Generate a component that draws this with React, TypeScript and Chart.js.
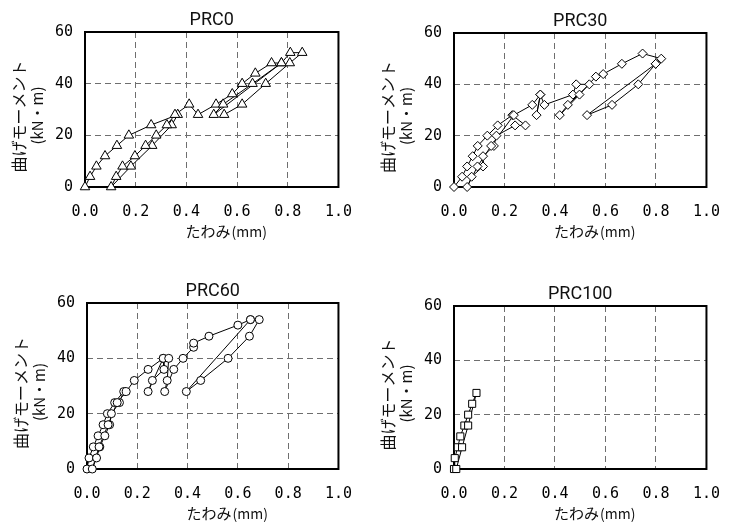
import React, { useEffect, useRef } from 'react';
import { Chart, registerables } from 'chart.js';

Chart.register(...registerables);

// ---- axis ticks ----
const xTickLabels = ['0.0', '0.2', '0.4', '0.6', '0.8', '1.0'];
const yTickLabels = ['0', '20', '40', '60'];

// ---- titles ----
const panelTitles = ['PRC0', 'PRC30', 'PRC60', 'PRC100'];
const xAxisTitle = 'たわみ';
const xAxisUnit = '(mm)';
const yAxisTitle = '曲げモーメント';
const yAxisUnit = '(kN・m)';

// ---- PRC0 (deflection mm, moment kN·m) ----
const prc0Deflection = [
  0, 0.02, 0.045, 0.079, 0.126, 0.173, 0.261, 0.366,
  0.342, 0.265, 0.181, 0.103,
  0.123, 0.148, 0.197, 0.239, 0.281, 0.323, 0.355,
  0.411, 0.446, 0.517, 0.581, 0.62, 0.672, 0.736, 0.775,
  0.661, 0.545, 0.508, 0.775, 0.81, 0.857, 0.808, 0.713, 0.62, 0.549,
];
const prc0Moment = [
  0, 4, 8, 12, 16, 20, 24, 28,
  24, 16, 8, 0,
  4, 8, 12, 16, 20, 24, 28,
  32, 28, 32, 36, 40, 44, 48, 48,
  40, 32, 28, 48, 52, 52, 48, 40, 32, 28,
];

// ---- PRC30 ----
const prc30Deflection = [
  0, 0.032, 0.052, 0.074, 0.094, 0.132, 0.173, 0.231,
  0.283, 0.242, 0.168, 0.158, 0.115, 0.115, 0.07, 0.052,
  0.093, 0.147, 0.237,
  0.31, 0.342, 0.327, 0.342, 0.358, 0.471, 0.484, 0.536, 0.451, 0.419, 0.497,
  0.562, 0.591, 0.665, 0.747, 0.821, 0.799, 0.527, 0.626, 0.73, 0.799,
];
const prc30Moment = [
  0, 4, 8, 12, 16, 20, 24, 28,
  24, 24, 20, 16, 12, 8, 4, 0,
  8, 16, 28,
  32, 36, 28, 36, 32, 36, 40, 40, 32, 28, 36,
  43, 44, 48, 52, 50, 48, 28, 32, 40, 48,
];

// ---- PRC60 ----
const prc60Deflection = [
  0, 0.008, 0.025, 0.044, 0.064, 0.081, 0.11, 0.146,
  0.129, 0.097, 0.09, 0.071, 0.051, 0.038, 0.021,
  0.048, 0.084, 0.12, 0.156,
  0.188, 0.243, 0.303, 0.306, 0.26, 0.243, 0.303, 0.325, 0.319, 0.309, 0.345,
  0.382, 0.424, 0.424, 0.485, 0.6, 0.65, 0.685, 0.646, 0.561, 0.452, 0.395, 0.65,
];
const prc60Moment = [
  0, 4, 8, 12, 16, 20, 24, 28,
  24, 20, 16, 12, 8, 4, 0,
  8, 16, 24, 28,
  32, 36, 40, 36, 32, 28, 40, 40, 32, 28, 36,
  40, 44, 45.5, 48, 52, 54, 54, 48, 40, 32, 28, 54,
];

// ---- PRC100 ----
const prc100Deflection = [0, 0.003, 0.015, 0.025, 0.041, 0.056, 0.072, 0.089, 0.056, 0.032, 0.009];
const prc100Moment = [0, 4, 8, 12, 16, 20, 24, 28, 16, 8, 0];

const JP = '"Noto Sans CJK JP", "Noto Sans", sans-serif';

const framePlugin = {
  id: 'frame',
  beforeDatasetsDraw(chart: any) {
    const { ctx, chartArea: a } = chart;
    ctx.save();
    ctx.strokeStyle = '#000';
    ctx.lineWidth = 2;
    ctx.strokeRect(a.left, a.top, a.right - a.left, a.bottom - a.top);
    ctx.restore();
  },
  afterDraw(chart: any, _args: any, opts: any) {
    const { ctx, chartArea: a } = chart;
    const cx = (a.left + a.right) / 2;
    const cy = (a.top + a.bottom) / 2;
    ctx.save();
    ctx.fillStyle = '#111';
    ctx.textBaseline = 'middle';
    // panel title
    ctx.textAlign = 'center';
    ctx.font = '18px Roboto, sans-serif';
    ctx.fillText(opts.title, cx, a.top - 12);
    // x axis title: main text and unit drawn as two consecutive runs
    const ty = a.bottom + 44;
    ctx.font = '15px ' + JP;
    const w1 = ctx.measureText(xAxisTitle).width;
    ctx.font = '14px ' + JP;
    const w2 = ctx.measureText(xAxisUnit).width;
    const x0 = cx + 14 - (w1 + w2) / 2;
    ctx.textAlign = 'left';
    ctx.font = '15px ' + JP;
    ctx.fillText(xAxisTitle, x0, ty);
    ctx.font = '14px ' + JP;
    ctx.fillText(xAxisUnit, x0 + w1 + 1, ty + 1);
    // y axis title (two lines)
    ctx.textAlign = 'center';
    ctx.save();
    ctx.translate(a.left - 66, cy + 7);
    ctx.rotate(-Math.PI / 2);
    ctx.font = '16px ' + JP;
    ctx.fillText(yAxisTitle, 0, 0);
    ctx.restore();
    ctx.save();
    ctx.translate(a.left - 48, cy + 6);
    ctx.rotate(-Math.PI / 2);
    ctx.font = '15px ' + JP;
    ctx.fillText(yAxisUnit, 0, 0);
    ctx.restore();
    ctx.restore();
  },
};

type Area = { left: number; top: number; right: number; bottom: number };

type PanelProps = {
  title: string;
  xs: number[];
  ys: number[];
  pointStyle: string;
  radius: number;
  left: number;
  top: number;
  width: number;
  height: number;
  area: Area;
};

const isEdge = (v: number, max: number) => Math.abs(v) < 1e-6 || Math.abs(v - max) < 1e-6;

function Panel({ title, xs, ys, pointStyle, radius, left, top, width, height, area }: PanelProps) {
  const ref = useRef<HTMLCanvasElement>(null);
  useEffect(() => {
    const tickFont = { family: '"DejaVu Sans Mono", monospace', size: 15 };
    const chart = new Chart(ref.current as HTMLCanvasElement, {
      type: 'scatter',
      data: {
        datasets: [
          {
            data: xs.map((x, i) => ({ x, y: ys[i] })),
            showLine: true,
            borderColor: '#000',
            borderWidth: 1,
            pointStyle: pointStyle as any,
            pointRadius: radius,
            pointBackgroundColor: '#fff',
            pointBorderColor: '#000',
            pointBorderWidth: 1,
            tension: 0,
            clip: false as any,
          },
        ],
      },
      options: {
        responsive: false,
        animation: false,
        layout: { padding: { left: 0, top: area.top, right: width - area.right, bottom: 0 } },
        plugins: {
          legend: { display: false },
          tooltip: { enabled: false },
          frame: { title },
        } as any,
        scales: {
          x: {
            type: 'linear',
            min: 0,
            max: 1,
            afterFit: (s: any) => {
              s.height = height - area.bottom;
            },
            ticks: {
              stepSize: 0.2,
              autoSkip: false,
              maxRotation: 0,
              padding: 16,
              color: '#000',
              font: tickFont,
              callback: (_v: any, i: number) => xTickLabels[i],
            },
            grid: {
              drawTicks: false,
              lineWidth: 1,
              color: (c: any) => (isEdge(c.tick ? c.tick.value : 0, 1) ? 'rgba(0,0,0,0)' : '#6e6e6e'),
            },
            border: { display: false, dash: [6, 4] },
          },
          y: {
            type: 'linear',
            min: 0,
            max: 60,
            afterFit: (s: any) => {
              s.width = area.left;
            },
            ticks: {
              stepSize: 20,
              autoSkip: false,
              padding: 12,
              color: '#000',
              font: tickFont,
              callback: (_v: any, i: number) => yTickLabels[i],
            },
            grid: {
              drawTicks: false,
              lineWidth: 1,
              color: (c: any) => (isEdge(c.tick ? c.tick.value : 0, 60) ? 'rgba(0,0,0,0)' : '#6e6e6e'),
            },
            border: { display: false, dash: [6, 4] },
          },
        },
      } as any,
      plugins: [framePlugin],
    });
    let alive = true;
    const redraw = () => {
      if (alive) chart.draw();
    };
    if ((document as any).fonts && (document as any).fonts.ready) {
      (document as any).fonts.ready.then(redraw);
    }
    const t = setTimeout(redraw, 30);
    return () => {
      alive = false;
      clearTimeout(t);
      chart.destroy();
    };
  }, []);
  return (
    <canvas
      ref={ref}
      width={width}
      height={height}
      style={{ position: 'absolute', left, top, width, height }}
    />
  );
}

export default function App() {
  return (
    <div style={{ position: 'absolute', left: 0, top: 0, width: 736, height: 523, background: '#fff' }}>
      <Panel
        title={panelTitles[0]}
        xs={prc0Deflection}
        ys={prc0Moment}
        pointStyle="triangle"
        radius={5.5}
        left={0}
        top={0}
        width={368}
        height={262}
        area={{ left: 85, top: 32, right: 343, bottom: 187 }}
      />
      <Panel
        title={panelTitles[1]}
        xs={prc30Deflection}
        ys={prc30Moment}
        pointStyle="rectRot"
        radius={4.5}
        left={368}
        top={0}
        width={368}
        height={262}
        area={{ left: 86, top: 33, right: 343, bottom: 187 }}
      />
      <Panel
        title={panelTitles[2]}
        xs={prc60Deflection}
        ys={prc60Moment}
        pointStyle="circle"
        radius={4}
        left={0}
        top={262}
        width={368}
        height={261}
        area={{ left: 87, top: 41, right: 342, bottom: 207 }}
      />
      <Panel
        title={panelTitles[3]}
        xs={prc100Deflection}
        ys={prc100Moment}
        pointStyle="rect"
        radius={5}
        left={368}
        top={262}
        width={368}
        height={261}
        area={{ left: 86, top: 44, right: 349, bottom: 207 }}
      />
    </div>
  );
}
